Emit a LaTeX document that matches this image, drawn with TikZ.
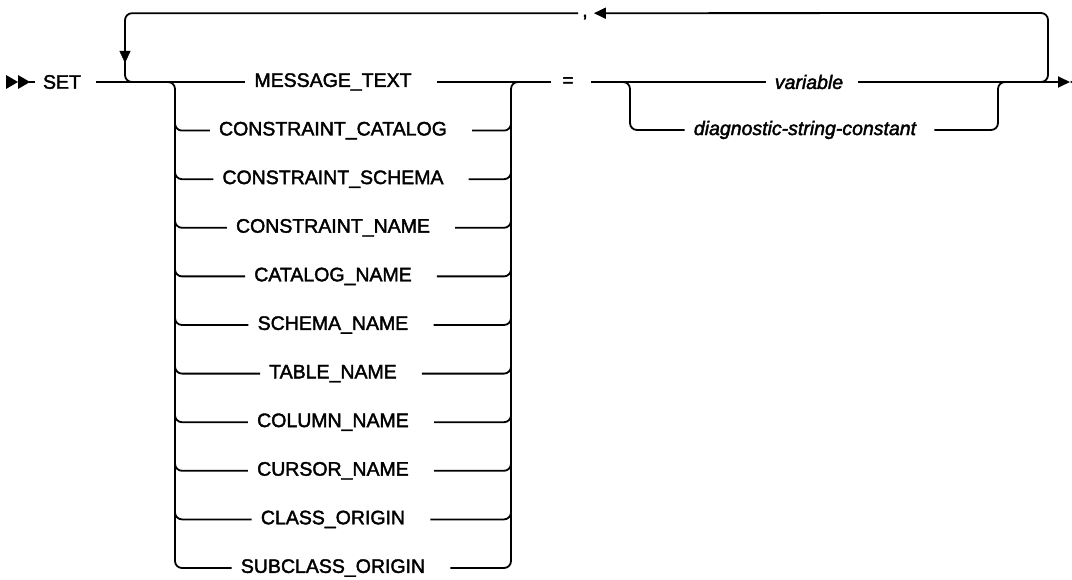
\documentclass[tikz,border=0pt]{standalone}
\usepackage{fontspec}
\setmainfont{Liberation Sans}
\newfontfamily\railfont[FakeBold=2]{Liberation Sans}
\usetikzlibrary{arrows.meta,calc}

\tikzset{
  rail/.style={line width=1.8pt, rounded corners=7pt},
  kw/.style={inner sep=0pt, font=\fontsize{19.5}{21}\railfont},
  var/.style={kw, font=\fontsize{19.5}{21}\railfont\itshape},
  tip/.style={-{Triangle[length=12pt,width=11pt]}}
}

\begin{document}
\begin{tikzpicture}[x=1pt,y=-1pt]
\useasboundingbox (0,0) rectangle (1072,580);
% start symbol and keyword
\fill (6,75)--(18,82)--(6,89)--cycle;
\fill (18,75)--(30,82)--(18,89)--cycle;
\draw[line width=1.8pt] (29,82)--(35,82);
\node[kw] (set) at (62,82) {SET};
% first choice
\coordinate (lv) at (175,82); \coordinate (rv) at (511,82);
\foreach \lbl [count=\i] in {MESSAGE\_TEXT, CONSTRAINT\_CATALOG, CONSTRAINT\_SCHEMA, CONSTRAINT\_NAME, CATALOG\_NAME, SCHEMA\_NAME, TABLE\_NAME, COLUMN\_NAME, CURSOR\_NAME, CLASS\_ORIGIN, SUBCLASS\_ORIGIN}{
  \pgfmathsetmacro{\y}{82+48.6*(\i-1)}
  \node[kw] (k\i) at (333,\y) {\lbl};
  \coordinate (kl\i) at ($(k\i.west)+(-9,0)$);
  \coordinate (kr\i) at ($(k\i.east)+(25,0)$);
}
\foreach \i in {2,...,10}{
  \draw[rail] (kl\i) -| ([yshift=20pt]kl\i -| lv);
  \draw[rail] (kr\i) -| ([yshift=20pt]kr\i -| rv);
}
\coordinate (cl) at (163,82); \coordinate (cr) at (523,82);
\draw[rail] (cl) -| (kl11 -| lv) -- (kl11);
\draw[rail] (kr11) -| (rv) -- (cr);
\draw[rail] ($(set.east)+(15,0)$) -- (kl1);
% assignment
\node[kw] (eq) at (568,82) {=};
\draw[rail] (kr1) -- ($(eq.west)+(-11,0)$);
\node[var] (v1) at (809,82) {variable};
\node[var] (v2) at (805,130) {diagnostic-string-constant};
\draw[rail] ($(eq.east)+(17,0)$) -- ($(v1.west)+(-9,0)$);
\draw[rail] (620,82) -| (630,130) -- ($(v2.west)+(-9,0)$);
\draw[rail] ($(v2.east)+(18,0)$) -| (998,82) -- (1010,82);
\draw[rail,tip] ($(v1.east)+(15,0)$) -- (1070,82);
\fill (1070,82)--(1081,76)--(1081,88)--cycle;
% repeat loop
\node[kw,anchor=base] (comma) at (585,17) {,};
\draw[rail,tip] (1036,82) -| (1048,13) -- ($(comma.east)+(6,-4)$);
\draw[rail] ($(comma.west)+(-4,-4)$) -| (125,82) -- (140,82);
\draw[tip] (125,44) -- (125,63);
\end{tikzpicture}
\end{document}
